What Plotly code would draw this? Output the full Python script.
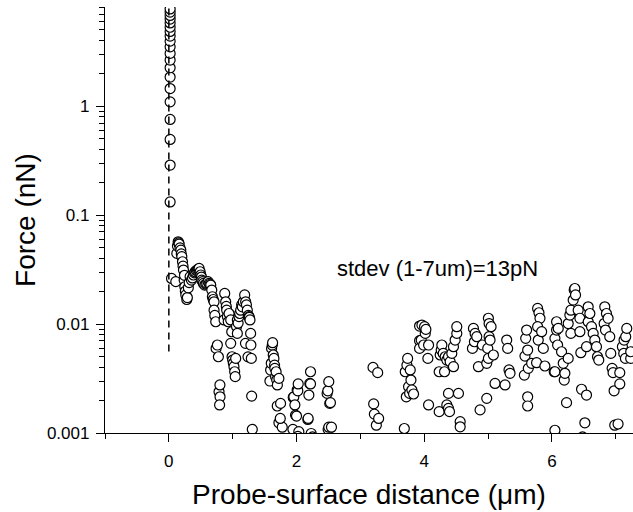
import plotly.graph_objects as go

# ---- data (x in µm, force in nN) ----
approach_x = [0.02] * 20
approach_y = [0.132, 0.288, 0.495, 0.755, 1.095, 1.45, 1.85, 2.25, 2.65, 3.05,
              3.5, 3.95, 4.4, 4.85, 5.3, 5.8, 6.3, 6.8, 7.3, 7.8]

pts = [
    # 0 - 0.3 um
    (0.042, 0.0262), (0.109, 0.0245), (0.125, 0.0445), (0.135, 0.0520), (0.146, 0.0569),
    (0.155, 0.0555), (0.161, 0.0542), (0.175, 0.0500), (0.1875, 0.0477), (0.195, 0.0440),
    (0.203, 0.0415), (0.214, 0.0373), (0.222, 0.0340), (0.229, 0.0313), (0.240, 0.0253),
    (0.245, 0.0280), (0.25, 0.0220), (0.258, 0.0200), (0.266, 0.0185), (0.281, 0.0168),
    (0.29, 0.0175),
    # 0.3 - 0.7 um
    (0.305, 0.0215), (0.318, 0.0240), (0.333, 0.0272), (0.354, 0.0253), (0.37, 0.0265),
    (0.385, 0.0282), (0.40, 0.0295), (0.411, 0.0302), (0.43, 0.0310), (0.448, 0.0313),
    (0.46, 0.0320), (0.474, 0.0324), (0.49, 0.0302), (0.5, 0.0282), (0.51, 0.0270),
    (0.516, 0.0253), (0.53, 0.0245), (0.542, 0.0236), (0.5625, 0.0228), (0.58, 0.0232),
    (0.594, 0.0236), (0.615, 0.0245), (0.63, 0.0236), (0.645, 0.0232), (0.656, 0.0228),
    (0.672, 0.0205), (0.682, 0.0178), (0.695, 0.0168), (0.708, 0.0160),
    # 0.7 - 1.31 um
    (0.708, 0.0134), (0.72, 0.0120), (0.734, 0.0105), (0.74, 0.00598), (0.76, 0.00642),
    (0.776, 0.00501), (0.786, 0.00239), (0.80, 0.00276), (0.802, 0.00215), (0.795, 0.00181),
    (0.865, 0.0109), (0.875, 0.0191), (0.89, 0.0160), (0.90, 0.0145), (0.906, 0.0134),
    (0.917, 0.0117), (0.93, 0.0105), (0.943, 0.0125), (0.969, 0.0109), (0.969, 0.00665),
    (0.985, 0.0085), (0.99, 0.00501), (1.0, 0.00467), (1.01, 0.00436), (1.02, 0.00406),
    (1.031, 0.00365), (1.04, 0.00329), (1.047, 0.00484), (1.06, 0.0095), (1.073, 0.0109),
    (1.073, 0.00821), (1.085, 0.0102), (1.099, 0.0117), (1.11, 0.0125), (1.125, 0.0134),
    (1.14, 0.0150), (1.151, 0.0144), (1.167, 0.0160), (1.1875, 0.0185), (1.2, 0.00665),
    (1.203, 0.0160), (1.215, 0.0150), (1.229, 0.0134), (1.24, 0.0050), (1.245, 0.0120),
    (1.255, 0.0117), (1.26, 0.0115), (1.271, 0.0109), (1.281, 0.00821), (1.285, 0.00642),
    (1.292, 0.00484), (1.297, 0.00218), (1.307, 0.00108),
    # 1.58 - 1.78 um
    (1.583, 0.0030), (1.594, 0.00378), (1.604, 0.00436), (1.609, 0.00598), (1.62, 0.00642),
    (1.625, 0.00674), (1.635, 0.0052), (1.646, 0.00484), (1.656, 0.0042), (1.66, 0.00392),
    (1.672, 0.00329), (1.68, 0.00365), (1.69, 0.00306), (1.70, 0.00276), (1.698, 0.00177),
    (1.724, 0.00317), (1.75, 0.00187), (1.724, 0.00124), (1.776, 0.00113), (1.745, 0.00136),
    # 1.94 - 2.55 um
    (1.943, 0.00108), (1.948, 0.00212), (1.958, 0.00215), (1.974, 0.00181), (1.984, 0.00146),
    (2.0, 0.00143), (2.01, 0.00248), (2.02, 0.00244), (2.026, 0.00282), (2.036, 0.00103),
    (2.02, 0.00093), (2.177, 0.00133), (2.182, 0.00136), (2.193, 0.00223), (2.208, 0.00285),
    (2.219, 0.00365), (2.219, 0.00282), (2.229, 0.00099), (2.25, 0.00092),
    (2.479, 0.00231), (2.49, 0.00244), (2.495, 0.00108), (2.505, 0.00296), (2.505, 0.00113),
    (2.52, 0.00187), (2.531, 0.00190), (2.547, 0.00113),
    # 3.2 - 3.83 um
    (3.198, 0.0040), (3.208, 0.00185), (3.219, 0.00149), (3.25, 0.00118), (3.271, 0.00358),
    (3.286, 0.00136), (3.688, 0.00110),
    (3.703, 0.00365), (3.719, 0.00215), (3.729, 0.0042), (3.74, 0.00484), (3.755, 0.00266),
    (3.771, 0.00231), (3.781, 0.00379), (3.792, 0.00306), (3.807, 0.00248), (3.833, 0.00228),
    # 3.93 - 4.07 um
    (3.927, 0.00959), (3.927, 0.00703), (3.927, 0.00598), (3.953, 0.00713), (3.964, 0.00979),
    (3.99, 0.00642), (4.005, 0.00946), (4.016, 0.00821), (4.026, 0.00893), (4.057, 0.00484),
    (4.068, 0.00642), (4.068, 0.00181),
    # 4.23 - 4.56 um
    (4.234, 0.00157), (4.234, 0.00365), (4.25, 0.0052), (4.266, 0.00577), (4.276, 0.00642),
    (4.297, 0.00538), (4.318, 0.00365), (4.328, 0.00501), (4.354, 0.00467), (4.354, 0.00181),
    (4.38, 0.00501), (4.38, 0.00231), (4.38, 0.00168), (4.396, 0.00157), (4.406, 0.00451),
    (4.432, 0.00538), (4.458, 0.0062), (4.458, 0.00406), (4.484, 0.00713), (4.51, 0.00821),
    (4.51, 0.00946), (4.536, 0.00231), (4.563, 0.00127), (4.563, 0.00114),
    # 4.75 - 5.34 um
    (4.755, 0.00598), (4.771, 0.00912), (4.786, 0.00688), (4.797, 0.00821), (4.823, 0.00765),
    (4.849, 0.00406), (4.875, 0.00163), (4.911, 0.00642), (4.979, 0.00436), (4.979, 0.00208),
    (4.995, 0.00598), (5.005, 0.00484), (5.005, 0.0113), (5.016, 0.00765), (5.016, 0.0101),
    (5.031, 0.00713), (5.047, 0.00946), (5.083, 0.0052), (5.109, 0.00285),
    (5.266, 0.00276), (5.292, 0.00713), (5.307, 0.00598), (5.328, 0.00379), (5.344, 0.00353),
    # 5.57 - 5.89 um
    (5.568, 0.0034), (5.578, 0.00508), (5.589, 0.00739), (5.604, 0.00881), (5.62, 0.00577),
    (5.62, 0.00215), (5.62, 0.00177), (5.63, 0.00392), (5.682, 0.00436), (5.76, 0.00442),
    (5.776, 0.0139), (5.786, 0.00713), (5.797, 0.0127), (5.813, 0.0113), (5.776, 0.00946),
    (5.839, 0.00851), (5.865, 0.00598), (5.89, 0.00412),
    # 6.03 - 6.26 um
    (6.036, 0.00365), (6.047, 0.00106), (6.047, 0.00739), (6.073, 0.0105), (6.073, 0.00881),
    (6.089, 0.00642), (6.099, 0.00912), (6.047, 0.00365), (6.151, 0.00557), (6.177, 0.00436),
    (6.193, 0.00306), (6.203, 0.00353), (6.229, 0.0019), (6.255, 0.00484), (6.255, 0.0101),
    # 6.28 - 6.75 um
    (6.281, 0.0121), (6.297, 0.0134), (6.297, 0.00821), (6.333, 0.0166), (6.349, 0.0205),
    (6.359, 0.0212), (6.37, 0.0185), (6.411, 0.0134), (6.438, 0.0113), (6.438, 0.00851),
    (6.453, 0.00546), (6.464, 0.00252), (6.48, 0.00092), (6.516, 0.00124), (6.542, 0.00223),
    (6.542, 0.0062), (6.568, 0.0144), (6.568, 0.0105), (6.594, 0.0125), (6.62, 0.00946),
    (6.646, 0.00821), (6.672, 0.00713), (6.698, 0.0062), (6.714, 0.00501), (6.734, 0.00467),
    # 6.8 - 7.27 um
    (6.818, 0.0101), (6.828, 0.0144), (6.839, 0.00881), (6.854, 0.0125), (6.88, 0.0113),
    (6.906, 0.00765), (6.922, 0.00538), (6.943, 0.00392), (6.958, 0.00358), (6.974, 0.00244),
    (6.984, 0.00118), (7.036, 0.00121), (7.063, 0.00358), (7.063, 0.00282), (7.104, 0.0062),
    (7.125, 0.00538), (7.13, 0.00713), (7.151, 0.00484), (7.156, 0.00765), (7.172, 0.00912),
    (7.234, 0.00484), (7.234, 0.00557),
]
retract_x = [p[0] for p in pts]
retract_y = [p[1] for p in pts]

contact_x = [0, 0]
contact_y = [0.0056, 20]

y_tickvals = [0.001, 0.01, 0.1, 1]
y_ticktext = ["0.001", "0.01", "0.1", "1"]
x_tickvals = [0, 2, 4, 6]
x_ticktext = ["0", "2", "4", "6"]

y_minor = [k * 10.0 ** e for e in range(-3, 1) for k in range(2, 10) if k * 10.0 ** e <= 8.1]
x_minor = [-1, 1, 3, 5, 7]

FONT = "Arial, Liberation Sans, sans-serif"

fig = go.Figure()
marker = dict(symbol="circle", size=10, color="white", line=dict(color="black", width=1.2))
fig.add_trace(go.Scatter(x=retract_x, y=retract_y, mode="markers", marker=marker,
                         showlegend=False, hoverinfo="skip"))
fig.add_trace(go.Scatter(x=approach_x, y=approach_y, mode="markers", marker=marker,
                         showlegend=False, hoverinfo="skip"))
fig.add_trace(go.Scatter(x=contact_x, y=contact_y, mode="lines",
                         line=dict(color="black", width=1.5, dash="7px,5px"),
                         showlegend=False, hoverinfo="skip"))

fig.add_annotation(x=2.61, y=-1.486, xref="x", yref="y", text="stdev (1-7um)=13pN",
                   showarrow=False, xanchor="left", yanchor="middle",
                   font=dict(family=FONT, size=22, color="black"))

fig.update_layout(
    width=633, height=512,
    margin=dict(l=105, r=0, t=7, b=79, autoexpand=False),
    paper_bgcolor="white", plot_bgcolor="white",
    font=dict(family=FONT, color="black"),
    showlegend=False,
)
fig.update_xaxes(
    range=[-1, 7.27], showgrid=False, zeroline=False, automargin=False,
    showline=True, linecolor="black", linewidth=1.3,
    ticks="outside", ticklen=8, tickwidth=1.3, tickcolor="black",
    tickvals=x_tickvals, ticktext=x_ticktext, tickfont=dict(size=17, family=FONT),
    ticklabelstandoff=4,
    minor=dict(tickvals=x_minor, ticks="outside", ticklen=5, tickwidth=1.3, tickcolor="black", showgrid=False),
    title=dict(text="Probe-surface distance (μm)", font=dict(size=28, family=FONT), standoff=14),
)
fig.update_yaxes(
    type="log", range=[-3, 0.91], showgrid=False, zeroline=False, automargin=False,
    showline=True, linecolor="black", linewidth=1.3,
    ticks="outside", ticklen=8, tickwidth=1.3, tickcolor="black",
    tickvals=y_tickvals, ticktext=y_ticktext, tickfont=dict(size=17, family=FONT),
    ticklabelstandoff=3,
    minor=dict(tickvals=y_minor, ticks="outside", ticklen=5, tickwidth=1.3, tickcolor="black", showgrid=False),
    title=dict(text="Force (nN)", font=dict(size=28, family=FONT), standoff=3),
)

fig.write_html("out.html", config={"displayModeBar": False},
               post_script="document.body.style.margin='0';")
